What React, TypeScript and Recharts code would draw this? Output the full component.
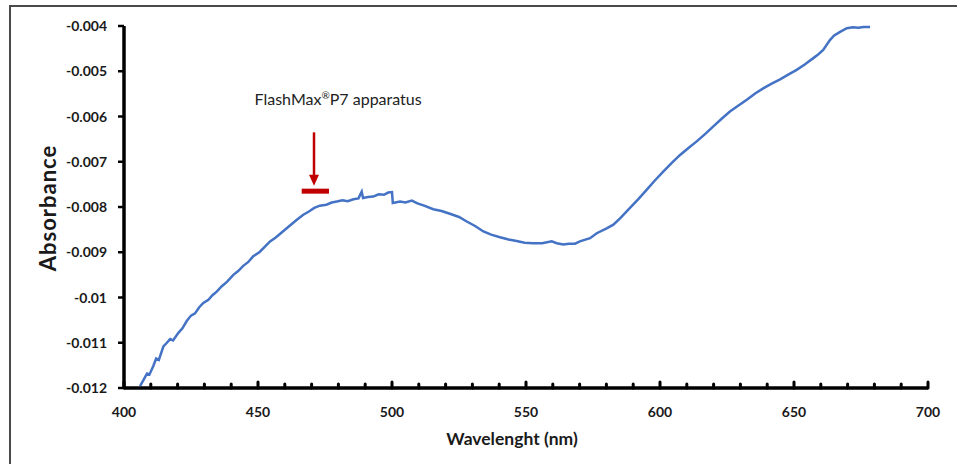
import React from "react";
import { LineChart, Line, XAxis, YAxis, ReferenceLine, ReferenceDot } from "recharts";

const wavelength = [
  406.0, 407.5, 408.6, 409.5, 410.9, 412.0, 413.0, 414.7, 416.0, 417.2, 418.3, 420.3, 421.8, 423.4, 425.0,
  426.5, 428.0, 429.6, 431.5, 433.0, 434.6, 436.5, 438.5, 440.8, 442.5, 444.5, 446.3, 448.2, 450.5, 452.5,
  454.5, 456.5, 458.5, 460.7, 462.5, 464.5, 466.9, 469.0, 471.0, 473.1, 475.5, 477.5, 479.4, 481.5, 483.5,
  485.6, 487.5, 488.7, 489.2, 491.0, 493.0, 495.0, 497.0, 498.6, 500.0, 500.3, 503.0, 505.0, 507.4, 509.5,
  512.0, 515.4, 518.5, 521.6, 525.0, 527.9, 531.0, 534.1, 537.0, 540.3, 543.5, 546.5, 549.5, 552.7, 556.0,
  559.6, 561.5, 563.9, 566.0, 568.3, 570.1, 573.9, 576.4, 580.1, 582.6, 585.1, 588.8, 592.0, 595.0, 598.0,
  601.2, 604.5, 607.5, 610.5, 613.7, 617.0, 619.9, 623.0, 626.1, 629.0, 632.4, 635.5, 638.5, 641.5, 644.8,
  648.0, 651.0, 654.0, 657.2, 659.0, 660.9, 663.4, 665.0, 667.2, 669.7, 672.0, 674.0, 676.0, 678.4,
];

const absorbance = [
  -0.01196, -0.0118, -0.01168, -0.0117, -0.01152, -0.01135, -0.01138, -0.01108, -0.011, -0.01092, -0.01095, -0.01078, -0.01068, -0.01052, -0.0104,
  -0.01035, -0.01022, -0.01012, -0.01005, -0.00995, -0.00987, -0.00975, -0.00965, -0.0095, -0.00942, -0.0093, -0.00922, -0.00909, -0.009, -0.00888,
  -0.00876, -0.00868, -0.00858, -0.00847, -0.00838, -0.00828, -0.00817, -0.0081, -0.00802, -0.00797, -0.00795, -0.0079, -0.00788, -0.00785, -0.00787,
  -0.00783, -0.00781, -0.00766, -0.0078, -0.00778, -0.00777, -0.00772, -0.00773, -0.00768, -0.00767, -0.00791, -0.00788, -0.0079, -0.00786, -0.00792,
  -0.00797, -0.00805, -0.00809, -0.00815, -0.00822, -0.00832, -0.00842, -0.00854, -0.00861, -0.00867, -0.00872, -0.00875, -0.00879, -0.0088, -0.0088,
  -0.00876, -0.0088, -0.00883, -0.00881, -0.00881, -0.00876, -0.00869, -0.00858, -0.00847, -0.00839, -0.00825, -0.00802, -0.00782, -0.00762, -0.00742,
  -0.00722, -0.00702, -0.00685, -0.0067, -0.00655, -0.00638, -0.00622, -0.00605, -0.00589, -0.00577, -0.00563, -0.00549, -0.00538, -0.00528, -0.00518,
  -0.00507, -0.00497, -0.00485, -0.00471, -0.00463, -0.00453, -0.00431, -0.00421, -0.00413, -0.00405, -0.00403, -0.00404, -0.00402, -0.00402,
];

const xTicks = [400, 410, 420, 430, 440, 450, 460, 470, 480, 490, 500, 510, 520, 530, 540, 550, 560, 570, 580, 590, 600, 610, 620, 630, 640, 650, 660, 670, 680, 690, 700];
const xMajor = [400, 450, 500, 550, 600, 650, 700];
const yTicks = [-0.012, -0.011, -0.01, -0.009, -0.008, -0.007, -0.006, -0.005, -0.004];
const yTickLabels = ["-0.012", "-0.011", "-0.01", "-0.009", "-0.008", "-0.007", "-0.006", "-0.005", "-0.004"];

const annotationMain = "FlashMax";
const annotationMark = "®";
const annotationRest = "P7 apparatus";
const annotationTextPos = { x: 479.9, y: -0.00563 };
const arrowX = 470.9;
const arrowTop = -0.00635;
const arrowTip = -0.00753;
const barStart = 466.3;
const barEnd = 476.5;
const barY = -0.00765;

const data = wavelength.map((w, i) => ({ wl: w, abs: absorbance[i] }));

const FONT = "Lato, 'Open Sans', sans-serif";

const XTick = (props: any) => {
  const { x, y, payload } = props;
  const major = xMajor.includes(payload.value);
  return (
    <g>
      <line x1={x} x2={x} y1={y} y2={y - (major ? 6 : 4)} stroke="#000" strokeWidth={3} strokeLinecap="round" />
      {major && (
        <text x={x} y={y + 29} textAnchor="middle" fontFamily={FONT} fontWeight={700} fontSize={14} fill="#1a1a1a">
          {payload.value}
        </text>
      )}
    </g>
  );
};

const YTick = (props: any) => {
  const { x, y, payload } = props;
  const idx = yTicks.indexOf(payload.value);
  return (
    <text x={x} y={y} dy={5} textAnchor="end" fontFamily={FONT} fontWeight={700} fontSize={14} fill="#1a1a1a">
      {idx >= 0 ? yTickLabels[idx] : payload.value}
    </text>
  );
};

const XLabel = (props: any) => {
  const vb = props.viewBox || {};
  return (
    <text x={vb.x + vb.width / 2 - 14} y={vb.y + 57} textAnchor="middle" fontFamily={FONT} fontWeight={700} fontSize={17.5} fill="#1a1a1a">
      Wavelenght (nm)
    </text>
  );
};

const YLabel = (props: any) => {
  const vb = props.viewBox || {};
  const cx = vb.x + 47;
  const cy = vb.y + vb.height / 2 + 1;
  return (
    <text
      x={cx}
      y={cy}
      transform={`rotate(-90 ${cx} ${cy})`}
      dy={9}
      textAnchor="middle"
      fontFamily={FONT}
      fontWeight={700}
      fontSize={22}
      letterSpacing={1}
      fill="#1a1a1a"
    >
      Absorbance
    </text>
  );
};

export default function App() {
  return (
    <div style={{ position: "absolute", left: 0, top: 0, width: 957, height: 464, background: "#fff" }}>
      <div
        style={{
          position: "absolute",
          left: 9,
          top: 5,
          width: 948,
          height: 459,
          borderTop: "2px solid #4a4a4a",
          borderLeft: "2px solid #4a4a4a",
          boxSizing: "border-box",
        }}
      />
      <div style={{ position: "absolute", left: 0, top: 0 }}>
        <LineChart width={957} height={464} data={data} margin={{ top: 26, right: 29, bottom: 36, left: 0 }}>
          <XAxis
            dataKey="wl"
            type="number"
            domain={[400, 700]}
            ticks={xTicks}
            interval={0}
            height={40}
            tickSize={0}
            tickMargin={0}
            tickLine={false}
            axisLine={{ stroke: "#000", strokeWidth: 3.5 }}
            tick={<XTick />}
            label={<XLabel />}
          />
          <YAxis
            type="number"
            domain={[-0.012, -0.004]}
            ticks={yTicks}
            interval={0}
            width={124}
            tickSize={6}
            tickMargin={11}
            tickLine={{ stroke: "#000", strokeWidth: 2.5 }}
            axisLine={{ stroke: "#000", strokeWidth: 3.5 }}
            tick={<YTick />}
            label={<YLabel />}
          />
          <Line
            type="linear"
            dataKey="abs"
            stroke="#4472C4"
            strokeWidth={2.5}
            dot={false}
            isAnimationActive={false}
          />
          <ReferenceLine
            segment={[{ x: barStart, y: barY }, { x: barEnd, y: barY }]}
            stroke="#C00000"
            strokeWidth={5}
          />
          <ReferenceLine
            segment={[{ x: arrowX, y: arrowTop }, { x: arrowX, y: arrowTip + 0.0002 }]}
            stroke="#C00000"
            strokeWidth={2.5}
          />
          <ReferenceDot
            x={arrowX}
            y={arrowTip}
            r={0}
            shape={(p: any) => (
              <polygon
                points={`${p.cx - 5},${p.cy - 11} ${p.cx + 5},${p.cy - 11} ${p.cx},${p.cy}`}
                fill="#C00000"
              />
            )}
          />
          <ReferenceDot
            x={annotationTextPos.x}
            y={annotationTextPos.y}
            r={0}
            shape={(p: any) => (
              <text x={p.cx} y={p.cy} dy={5} textAnchor="middle" fontFamily={FONT} fontSize={16} fill="#222">
                {annotationMain}
                <tspan fontSize={10} dy={-6}>{annotationMark}</tspan>
                <tspan dy={6}>{annotationRest}</tspan>
              </text>
            )}
          />
        </LineChart>
      </div>
    </div>
  );
}
